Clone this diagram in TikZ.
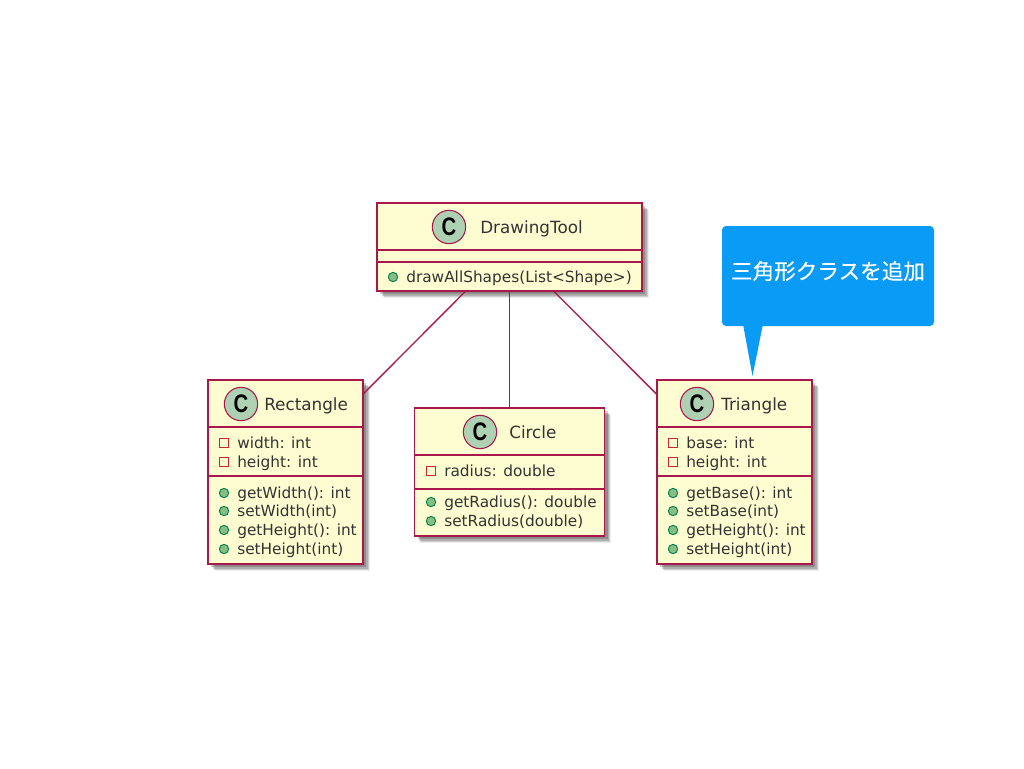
\documentclass[tikz,border=0pt]{standalone}
\usepackage{fontspec}
\setmainfont{DejaVu Sans}
\newfontfamily\cjkfont[FakeBold=0.25]{Noto Sans CJK JP}
\newfontfamily\iconfont[FakeStretch=0.8]{Liberation Sans}
\usepackage{tikz}
\usetikzlibrary{shadows}
\definecolor{umlline}{HTML}{A8184A}
\definecolor{umlfill}{HTML}{FEFDD2}
\definecolor{umlicon}{HTML}{ADD1B2}
\definecolor{umlpriv}{HTML}{C82930}
\definecolor{umlpub}{HTML}{84BE84}
\definecolor{umlpubline}{HTML}{038048}
\definecolor{notefill}{HTML}{0A9BF7}
\tikzset{
    classbox/.style={draw=umlline,fill=umlfill,line width=1.2pt,inner sep=0pt,outer sep=0pt,
        general shadow={shadow xshift=5pt,shadow yshift=-5pt,fill=black,opacity=0.07},
        general shadow={shadow xshift=4.2pt,shadow yshift=-4.2pt,fill=black,opacity=0.12},
        general shadow={shadow xshift=3.4pt,shadow yshift=-3.4pt,fill=black,opacity=0.16},
        general shadow={shadow xshift=2.6pt,shadow yshift=-2.6pt,fill=black,opacity=0.2}},
    classicon/.style={circle,draw=umlline,fill=umlicon,line width=0.8pt,minimum size=25pt,inner sep=0pt,
        font=\iconfont\fontsize{19}{19}\selectfont\bfseries},
    classname/.style={anchor=base west,inner sep=0pt,text=black!80,font=\fontsize{12.6}{13}\selectfont},
    membertext/.style={anchor=base west,inner sep=0pt,text=black!80,font=\fontsize{11.5}{12}\selectfont},
    privmark/.style={rectangle,draw=umlpriv,line width=0.7pt,minimum size=6.6pt,inner sep=0pt},
    pubmark/.style={circle,draw=umlpubline,fill=umlpub,line width=0.7pt,minimum size=7pt,inner sep=0pt},
    sepline/.style={draw=umlline,line width=1.2pt},
    assoc/.style={draw=umlline,line width=1pt},
}
% one class box: name, centre x, centre y, width, height
\newcommand{\classrect}[5]{\node[classbox,minimum width=#4*0.75pt,minimum height=#5*0.75pt] (#1) at (#2,#3) {};}
\begin{document}
\begin{tikzpicture}[x=0.75pt,y=-0.75pt]
    \useasboundingbox (0,0) rectangle (1024,768);

    \classrect{tool}{509.5}{247}{265}{88}
    \classrect{rect}{285.5}{472}{155}{184}
    \classrect{circ}{509.5}{472}{190}{128}
    \classrect{tri}{734.5}{472}{155}{184}

    \draw[assoc] (tool) -- (rect);
    \draw[assoc] (tool) -- (circ);
    \draw[assoc] (tool) -- (tri);

    % DrawingTool
    \draw[sepline] (377,250) -- (642,250);
    \draw[sepline] (377,262) -- (642,262);
    \node[classicon] (toolicon) at (449,227) {C};
    \node[classname] (toolname) at (480,233) {DrawingTool};
    \node[pubmark] (toolm1) at (393,277) {};
    \node[membertext] (toolt1) at (406,282) {drawAllShapes(List<Shape>)};

    % Rectangle
    \draw[sepline] (208,427) -- (363,427);
    \draw[sepline] (208,476) -- (363,476);
    \node[classicon] (recticon) at (241,404) {C};
    \node[classname] (rectname) at (264,410) {Rectangle};
    \foreach \n/\y/\t in {1/443/width: int,2/462/height: int} {
        \node[privmark] (rectp\n) at (224,\y) {};
        \node[membertext] (rectq\n) at (237,\y+5) {\t};
    }
    \foreach \n/\y/\t in {1/493/getWidth(): int,2/511/setWidth(int),3/530/getHeight(): int,4/549/setHeight(int)} {
        \node[pubmark] (rectm\n) at (224,\y) {};
        \node[membertext] (rectt\n) at (237,\y+5) {\t};
    }

    % Circle
    \draw[sepline] (415,455) -- (605,455);
    \draw[sepline] (415,489) -- (605,489);
    \node[classicon] (circicon) at (480,432) {C};
    \node[classname] (circname) at (509,438) {Circle};
    \node[privmark] (circp1) at (431,471) {};
    \node[membertext] (circq1) at (444,476) {radius: double};
    \foreach \n/\y/\t in {1/502/getRadius(): double,2/521/setRadius(double)} {
        \node[pubmark] (circm\n) at (431,\y) {};
        \node[membertext] (circt\n) at (444,\y+5) {\t};
    }

    % Triangle
    \draw[sepline] (657,427) -- (812,427);
    \draw[sepline] (657,476) -- (812,476);
    \node[classicon] (triicon) at (697,404) {C};
    \node[classname] (triname) at (721,410) {Triangle};
    \foreach \n/\y/\t in {1/443/base: int,2/462/height: int} {
        \node[privmark] (trip\n) at (673,\y) {};
        \node[membertext] (triq\n) at (686,\y+5) {\t};
    }
    \foreach \n/\y/\t in {1/493/getBase(): int,2/511/setBase(int),3/530/getHeight(): int,4/549/setHeight(int)} {
        \node[pubmark] (trim\n) at (673,\y) {};
        \node[membertext] (trit\n) at (686,\y+5) {\t};
    }

    % note
    \fill[notefill] (743,324) -- (763,324) -- (752.5,376) -- cycle;
    \node[fill=notefill,rounded corners=3pt,minimum width=212*0.75pt,minimum height=100*0.75pt,inner sep=0pt] (note) at (828,276) {};
    \node[text=white,inner sep=0pt,font=\cjkfont\fontsize{16.2}{17}\selectfont] (notetext) at (828,271) {三角形クラスを追加};
\end{tikzpicture}
\end{document}
